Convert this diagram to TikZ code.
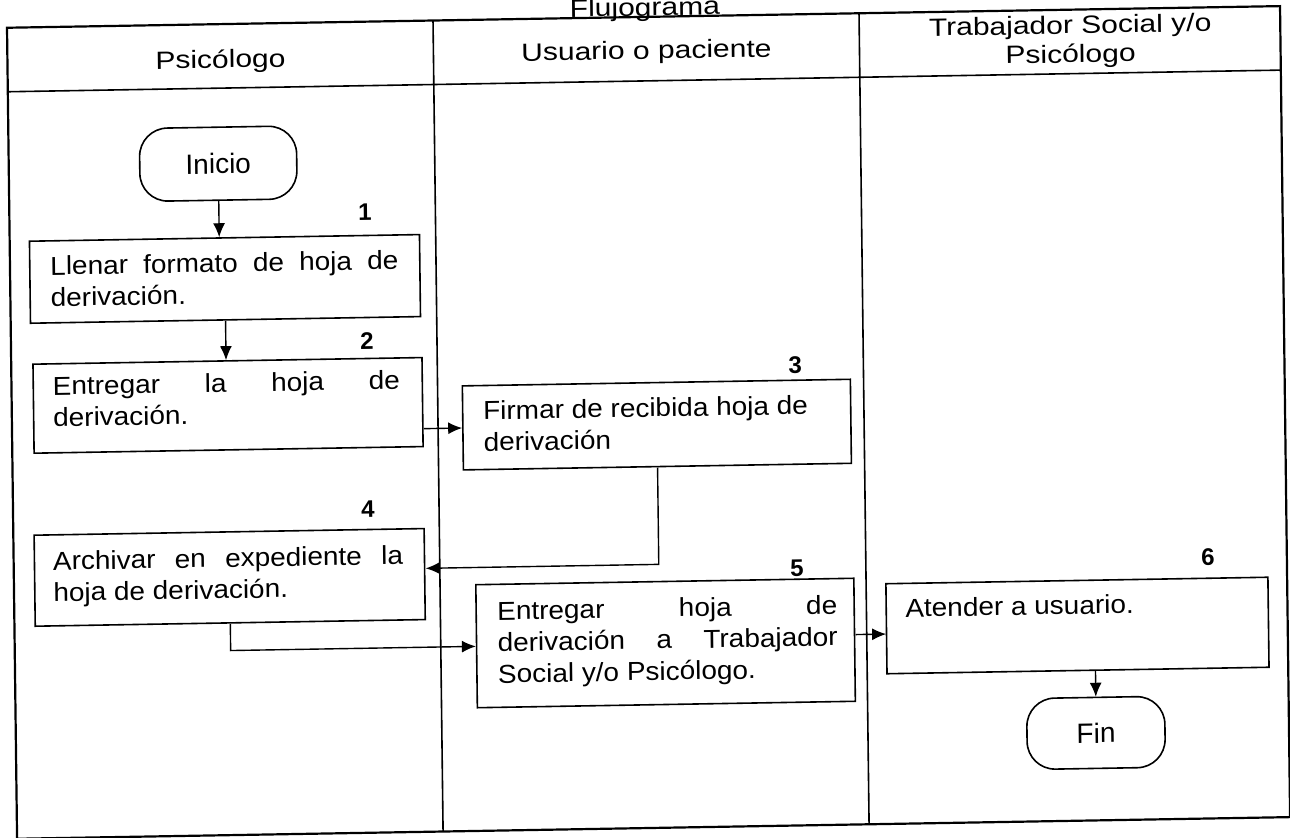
\documentclass[tikz,border=0pt]{standalone}
\usepackage{fontspec}
\setmainfont{Liberation Sans}
\newfontfamily\bodyf{Liberation Sans}[FakeStretch=1.075]
\newfontfamily\headf{Liberation Sans}[FakeStretch=1.2]
\newfontfamily\plainf{Liberation Sans}
\usetikzlibrary{arrows.meta}
\newcommand\btext[1]{\parbox[t]{190pt}{\bodyf\fontsize{13}{15.75}\selectfont #1}}
\newcommand\sline[2]{\makebox[#1][s]{#2}}
\tikzset{
  frameline/.style={line width=1.1pt},
  laneline/.style={line width=0.8pt},
  box/.style={draw, line width=0.8pt, rectangle, inner sep=0pt, anchor=north west},
  term/.style={draw, line width=0.8pt, rounded corners=14pt, inner sep=0pt,
    font=\plainf\fontsize{14}{16}\selectfont},
  txt/.style={anchor=base west, inner sep=0pt},
  num/.style={anchor=base, inner sep=0pt, font=\plainf\bfseries\fontsize{12}{14}\selectfont},
  hdr/.style={anchor=base, inner sep=0pt, font=\headf\fontsize{12.5}{14}\selectfont},
  arr/.style={line width=0.7pt, -{Latex[length=7pt,width=6pt]}}
}
\begin{document}
\begin{tikzpicture}[x=0.5pt,y=-0.5pt]
\useasboundingbox (0,0) rectangle (1290,838);
\fill[white] (0,0) rectangle (1290,838);
\begin{scope}[cm={1,0.017,-0.0124,1,(-2.598pt,-5.4825pt)}, transform shape]
% title
\node[hdr] (title) at (650,16) {Flujograma};
% frame and lanes
\draw[frameline] (12,17) rectangle (1285,828);
\draw[laneline] (12,81) -- (1285,81);
\draw[laneline] (438,17) -- (438,828);
\draw[laneline] (864,17) -- (864,828);
% headers
\node[hdr] (h1) at (225,61) {Psicólogo};
\node[hdr] (h2) at (651,59) {Usuario o paciente};
\node[hdr] (h3a) at (1075,41) {Trabajador Social y/o};
\node[hdr] (h3b) at (1075,70) {Psicólogo};
% terminals
\node[term, minimum width=78.5pt, minimum height=36.5pt] (inicio) at (221.5,156.5) {Inicio};
\node[term, minimum width=69pt, minimum height=35.5pt] (fin) at (1092,740.5) {Fin};
% process boxes
\node[box, minimum width=195pt, minimum height=41pt] (box1) at (31,230) {};
\node[box, minimum width=194.5pt, minimum height=44.5pt] (box2) at (33,353) {};
\node[box, minimum width=194pt, minimum height=42pt] (box3) at (462,382) {};
\node[box, minimum width=195pt, minimum height=45.5pt] (box4) at (32,524) {};
\node[box, minimum width=189pt, minimum height=61.5pt] (box5) at (473,581) {};
\node[box, minimum width=191pt, minimum height=45pt] (box6) at (883,587) {};
% texts
\node[txt] (t1) at (52,265) {\btext{\sline{174pt}{Llenar formato de hoja de}\\derivación.}};
\node[txt] (t2) at (53,385) {\btext{\sline{173.5pt}{Entregar la hoja de}\\derivación.}};
\node[txt] (t3) at (483,417) {\btext{Firmar de recibida hoja de\\derivación}};
\node[txt] (t4) at (51,560) {\btext{\sline{175pt}{Archivar en expediente la}\\hoja de derivación.}};
\node[txt] (t5) at (494.5,617.5) {\btext{\sline{170pt}{Entregar hoja de}\\\sline{170pt}{derivación a Trabajador}\\Social y/o Psicólogo.}};
\node[txt] (t6) at (902.6,621.4) {\btext{Atender a usuario.}};
% numbers
\node[num] (n1) at (367.6,216) {1};
\node[num] (n2) at (368,345) {2};
\node[num] (n3) at (795.7,375.6) {3};
\node[num] (n4) at (367,513) {4};
\node[num] (n5) at (795,578.6) {5};
\node[num] (n6) at (1206,574.6) {6};
% connectors
\draw[arr] (inicio.south) -- (inicio.south |- box1.north);
\draw[arr] (box1.south) -- (box1.south |- box2.north);
\draw[arr] (box2.east |- box3.west) -- (box3.west);
\path ([yshift=3pt]box4.east) coordinate (j4);
\draw[arr] (box3.south) |- (j4);
\draw[arr] (box4.south) |- (box5.west);
\path ([yshift=-2.5pt]box6.west) coordinate (j6);
\draw[arr] (box5.east |- j6) -- (j6);
\draw[arr] (fin.north |- box6.south) -- (fin.north);
\end{scope}
\end{tikzpicture}
\end{document}
